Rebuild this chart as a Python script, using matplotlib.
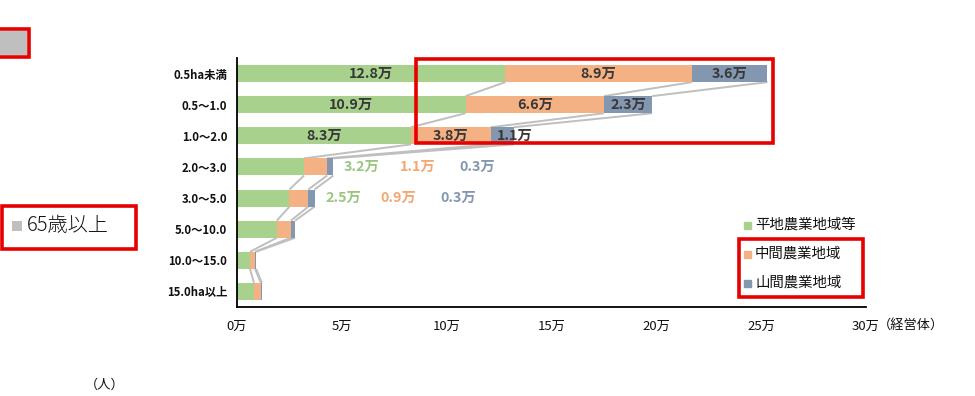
import matplotlib
matplotlib.use("Agg")
import matplotlib.pyplot as plt
from matplotlib.patches import Rectangle
import numpy as np

plt.rcParams['font.family'] = ['Noto Sans CJK JP', 'DejaVu Sans']

# ---- data ----
categories = ["0.5ha未満", "0.5～1.0", "1.0～2.0", "2.0～3.0", "3.0～5.0",
              "5.0～10.0", "10.0～15.0", "15.0ha以上"]
series_names = ["平地農業地域等", "中間農業地域", "山間農業地域"]
flat = [12.8, 10.9, 8.3, 3.2, 2.5, 1.9, 0.62, 0.81]
middle = [8.9, 6.6, 3.8, 1.1, 0.9, 0.67, 0.24, 0.33]
mountain = [3.6, 2.3, 1.1, 0.3, 0.3, 0.2, 0.05, 0.05]
flat_labels = ["12.8万", "10.9万", "8.3万", "3.2万", "2.5万"]
middle_labels = ["8.9万", "6.6万", "3.8万", "1.1万", "0.9万"]
mountain_labels = ["3.6万", "2.3万", "1.1万", "0.3万", "0.3万"]
xticks = [0, 5, 10, 15, 20, 25, 30]
xtick_labels = ["0万", "5万", "10万", "15万", "20万", "25万", "30万"]

colors = ["#a9d18e", "#f4b183", "#8497b0"]
label_colors = ["#9cc581", "#f2a873", "#8497b0"]

W, H = 975, 396
fig = plt.figure(figsize=(W / 100, H / 100), dpi=100)

def fx(px):
    return px / W

def fy(py):
    return 1 - py / H

ax = fig.add_axes([fx(237), fy(307), fx(866) - fx(237), fy(58) - fy(307)])

y = np.arange(len(categories))
bh = 0.55
series = [np.array(flat), np.array(middle), np.array(mountain)]
left = np.zeros(len(categories))
cums = []
for vals, c, name in zip(series, colors, series_names):
    ax.barh(y, vals, left=left, height=bh, color=c, label=name, zorder=2)
    left = left + vals
    cums.append(left.copy())

# series lines (connectors)
for cum in cums:
    for i in range(len(categories) - 1):
        ax.plot([cum[i], cum[i + 1]], [y[i] + bh / 2, y[i + 1] - bh / 2],
                color="#bfbfbf", lw=1.4, zorder=1, solid_capstyle="butt")

# inside labels (first three rows)
lefts = [np.zeros(len(categories)), cums[0], cums[1]]
labs = [flat_labels, middle_labels, mountain_labels]
for i in range(3):
    for s in range(3):
        xc = lefts[s][i] + series[s][i] / 2
        if s == 2 and i == 2:
            xc += 0.6
        ax.text(xc, y[i], labs[s][i], ha="center", va="center", fontsize=10.3,
                fontweight="bold", color="#383838", zorder=3)

# outside labels (rows 4, 5)
offsets = [1.35, 4.0, 6.85]
for i in (3, 4):
    tot = cums[2][i]
    for s in range(3):
        ax.text(tot + offsets[s], y[i], labs[s][i], ha="center", va="center",
                fontsize=10.3, fontweight="bold", color=label_colors[s], zorder=3)

ax.set_xlim(0, 30)
ax.set_ylim(len(categories) - 0.5, -0.5)
ax.set_yticks(y)
ax.set_yticklabels(categories, fontsize=8.2, fontweight="bold", color="#111111")
ax.set_xticks(xticks)
ax.set_xticklabels(xtick_labels, fontsize=9.5, color="#111111")
ax.tick_params(axis="both", length=0)
ax.tick_params(axis="x", pad=9)
ax.tick_params(axis="y", pad=7)
for sp in ("top", "right"):
    ax.spines[sp].set_visible(False)
for sp in ("left", "bottom"):
    ax.spines[sp].set_linewidth(1.3)
    ax.spines[sp].set_color("#000000")

fig.text(fx(878), fy(325), "（経営体）", ha="left", va="center", fontsize=9.5, color="#111111")

# legend (manual)
leg_y = [225, 254, 283]
for name, c, ly in zip(series_names, colors, leg_y):
    fig.patches.append(Rectangle((fx(744), fy(ly + 3.5)), fx(7), 7 / H,
                                 transform=fig.transFigure, color=c))
    fig.text(fx(755), fy(ly), name, ha="left", va="center", fontsize=10.4, color="#111111")

# left fragments
fig.patches.append(Rectangle((fx(0), fy(55)), fx(27), 24 / H, transform=fig.transFigure,
                             facecolor="#bfbfbf", edgecolor="none"))
fig.patches.append(Rectangle((fx(12), fy(231)), fx(10), 10 / H, transform=fig.transFigure,
                             facecolor="#bfbfbf", edgecolor="none"))
fig.text(fx(27), fy(225), "65歳以上", ha="left", va="center", fontsize=14.5,
         fontweight="light", color="#111111")
fig.text(fx(105), fy(385), "（人）", ha="center", va="center", fontsize=9.5, color="#111111")

# red annotation boxes
def red_box(x0, y0, x1, y1):
    fig.patches.append(Rectangle((fx(x0), fy(y1)), fx(x1 - x0), (y1 - y0) / H,
                                 transform=fig.transFigure, fill=False,
                                 edgecolor="#e60000", lw=2.6, zorder=5))

red_box(-5, 29, 29, 57)
red_box(2, 206, 136, 249)
red_box(416, 59, 773, 143)
red_box(739, 239, 863, 297)

fig.savefig("out.png", dpi=100)
